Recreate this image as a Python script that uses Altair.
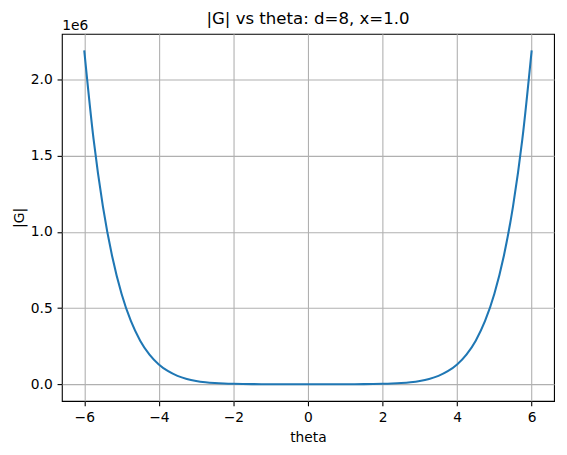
import altair as alt
import pandas as pd

# values
theta = [-6.0, -5.75, -5.5, -5.25, -5.0, -4.75, -4.5, -4.25, -4.0, -3.75, -3.5, -3.25,
         -3.0, -2.75, -2.5, -2.25, -2.0, -1.75, -1.5, -1.25, -1.0, -0.75, -0.5, -0.25,
         0.0, 0.25, 0.5, 0.75, 1.0, 1.25, 1.5, 1.75, 2.0, 2.25, 2.5, 2.75,
         3.0, 3.25, 3.5, 3.75, 4.0, 4.25, 4.5, 4.75, 5.0, 5.25, 5.5, 5.75, 6.0]
g_abs = [2190600, 1607940, 1167750, 837900, 593770, 415260, 286380, 194580, 130130, 85622, 55380, 35195,
         21973, 13478, 8133, 4838, 2848, 1669, 984, 591, 369, 245, 178, 145,
         135, 145, 178, 245, 369, 591, 984, 1669, 2848, 4838, 8133, 13478,
         21973, 35195, 55380, 85622, 130130, 194580, 286380, 415260, 593770, 837900, 1167750, 1607940, 2190600]
x_ticks = [-6, -4, -2, 0, 2, 4, 6]
y_ticks = [0, 500000, 1000000, 1500000, 2000000]
title_text = "|G| vs theta: d=8, x=1.0"
offset_text = "1e6"

df = pd.DataFrame({"theta": theta, "G": g_abs})

FONT = "DejaVu Sans"

line = alt.Chart(df).mark_line(color="#1f77b4", strokeWidth=2.08, interpolate="monotone").encode(
    x=alt.X("theta:Q",
            scale=alt.Scale(domain=[-6.6, 6.6], nice=False, zero=False),
            axis=alt.Axis(values=x_ticks, format="d", title="theta",
                          titleX=248, titleY=40.7, titleBaseline="alphabetic",
                          titleAlign="center",
                          labelBaseline="alphabetic", labelPadding=15.5)),
    y=alt.Y("G:Q",
            scale=alt.Scale(domain=[-109500, 2299500], nice=False, zero=False),
            axis=alt.Axis(values=y_ticks, labelExpr="format(datum.value/1e6, '.1f')",
                          title="|G|", titleX=-38.3, titleY=185, titleAngle=-90,
                          titleBaseline="alphabetic", titleAlign="center",
                          labelPadding=4.86)),
)

offset = alt.Chart(pd.DataFrame({"t": [offset_text]})).mark_text(
    align="left", baseline="alphabetic", font=FONT, fontSize=13.9, color="black"
).encode(x=alt.value(0.4), y=alt.value(-4), text="t:N")

title = alt.Chart(pd.DataFrame({"t": [title_text]})).mark_text(
    align="center", baseline="alphabetic", font=FONT, fontSize=16.7, color="black"
).encode(x=alt.value(248), y=alt.value(-9.6), text="t:N")

chart = alt.layer(line, offset, title).properties(
    width=496, height=370,
    autosize=alt.AutoSizeParams(type="none"),
    padding={"left": 54.3, "top": 24.3, "right": 5, "bottom": 50},
).configure_view(
    stroke="black", strokeWidth=1.1
).configure_axis(
    domain=False, grid=True, gridColor="#b0b0b0", gridWidth=1.1,
    ticks=True, tickColor="black", tickWidth=1.1, tickSize=4.86,
    labelFont=FONT, labelFontSize=13.9, labelColor="black",
    titleFont=FONT, titleFontSize=13.9, titleFontWeight="normal", titleColor="black",
    labelFlush=False, labelOverlap=False,
)

chart.save("out.html", embed_options={"renderer": "svg", "actions": False})
